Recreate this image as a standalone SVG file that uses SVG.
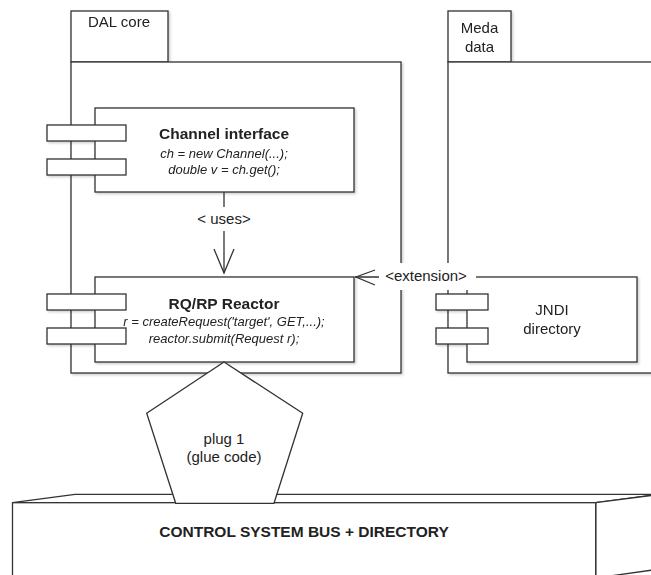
<svg xmlns="http://www.w3.org/2000/svg" width="651" height="575" viewBox="0 0 651 575">
<defs>
<style>
.s{fill:#fff;stroke:#333;stroke-width:1.3}
.l{fill:none;stroke:#333;stroke-width:1.3}
.t{font-family:"Liberation Sans",Arial,sans-serif;font-size:15px;fill:#222;text-anchor:middle}
.b{font-weight:bold}
.i{font-style:italic;font-size:13px}
</style>
<filter id="sh" x="-5%" y="-5%" width="115%" height="115%">
<feDropShadow dx="1.5" dy="1.5" stdDeviation="1" flood-color="#000" flood-opacity="0.2"/>
</filter>
</defs>
<rect width="651" height="575" fill="#fff"/>

<g id="dal-core" filter="url(#sh)">
<rect class="s" x="71" y="11" width="97" height="51"/>
<rect class="s" x="71" y="62" width="330" height="311"/>
<text class="t" x="119" y="27">DAL core</text>
</g>

<g id="meda-data" filter="url(#sh)">
<rect class="s" x="448" y="11" width="63" height="51"/>
<rect class="s" x="448" y="62" width="220" height="311"/>
<text class="t" x="479.5" y="33">Meda</text>
<text class="t" x="479.5" y="52">data</text>
</g>

<g id="channel-interface" filter="url(#sh)">
<rect class="s" x="95" y="108" width="259" height="84"/>
<rect class="s" x="47" y="125" width="79" height="16"/>
<rect class="s" x="47" y="159" width="79" height="16"/>
<text class="t b" x="224" y="139" style="font-size:15.5px">Channel interface</text>
<text class="t i" x="224" y="158">ch = new Channel(...);</text>
<text class="t i" x="224" y="174">double v = ch.get();</text>
</g>

<g id="rqrp-reactor" filter="url(#sh)">
<rect class="s" x="95" y="277" width="259" height="85"/>
<rect class="s" x="47" y="294" width="79" height="16"/>
<rect class="s" x="47" y="328" width="79" height="16"/>
<text class="t b" x="224" y="309" style="font-size:15.5px">RQ/RP Reactor</text>
<text class="t i" x="224" y="326">r = createRequest('target', GET,...);</text>
<text class="t i" x="224" y="343">reactor.submit(Request r);</text>
</g>

<g id="jndi-directory" filter="url(#sh)">
<rect class="s" x="467" y="277" width="170" height="85"/>
<rect class="s" x="436" y="294" width="52" height="16"/>
<rect class="s" x="436" y="328" width="52" height="16"/>
<text class="t" x="552" y="315">JNDI</text>
<text class="t" x="552" y="334">directory</text>
</g>

<g id="connectors">
<line class="l" x1="224" y1="192" x2="224" y2="273"/>
<polyline class="l" points="214,249 224,273 234,249"/>
<rect x="190" y="207" width="68" height="24" fill="#fff"/>
<text class="t" x="224" y="224">&lt; uses&gt;</text>
<line class="l" x1="467" y1="277" x2="355" y2="277"/>
<polyline class="l" points="375,270 356,277 375,285"/>
<rect x="379" y="263" width="97" height="27" fill="#fff"/>
<text class="t" x="426" y="281">&lt;extension&gt;</text>
</g>

<g id="bus">
<polygon class="s" points="12.5,502.7 75,494.3 660,494.3 595.7,502.7"/>
<polygon class="s" points="595.7,502.7 660,494.3 660,569 595.7,578"/>
<rect class="s" x="12.5" y="502.7" width="583.2" height="80"/>
<text class="t b" x="304" y="537" style="font-size:15.5px">CONTROL SYSTEM BUS + DIRECTORY</text>
</g>

<g id="plug1">
<polygon class="s" points="224,362 302.7,413.3 274,503.3 175.7,503.3 146.7,413.3"/>
<text class="t" x="224" y="444">plug 1</text>
<text class="t" x="224" y="462">(glue code)</text>
</g>
</svg>
